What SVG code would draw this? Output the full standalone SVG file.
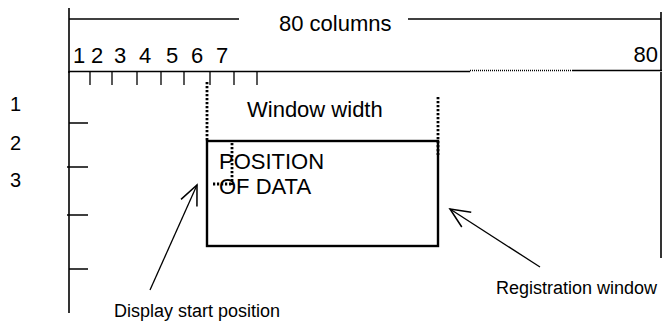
<svg xmlns="http://www.w3.org/2000/svg" width="663" height="324" viewBox="0 0 663 324">
  <style>
    .ln { stroke: #000; stroke-width: 1.6; fill: none; }
    .thin { stroke: #000; stroke-width: 1.3; fill: none; }
    .dot { stroke: #000; stroke-width: 2.8; stroke-dasharray: 2.2 1.8; fill: none; }
    .fine { stroke: #000; stroke-width: 1.4; stroke-dasharray: 1 1; fill: none; }
    .box { stroke: #000; stroke-width: 2.4; fill: none; }
    .big { font-family: "Liberation Sans", Arial, sans-serif; font-size: 22px; fill: #000; }
    .mid { font-family: "Liberation Sans", Arial, sans-serif; font-size: 18px; fill: #000; }
    .row { font-family: "Liberation Sans", Arial, sans-serif; font-size: 20px; fill: #000; }
  </style>
  <defs>
    <marker id="head" markerUnits="userSpaceOnUse" markerWidth="24" markerHeight="24" viewBox="-20 -10 22 20" refX="0" refY="0" orient="auto">
      <path d="M-18,-8 L0,0 L-18,8" stroke="#000" stroke-width="1.4" fill="none"/>
    </marker>
  </defs>
  <rect width="663" height="324" fill="#fff"/>

  <!-- column span header: 80 columns -->
  <g id="column-span">
    <line class="ln" x1="69" y1="8" x2="69" y2="73"/>
    <line class="ln" x1="661" y1="12" x2="661" y2="71"/>
    <line class="ln" x1="69" y1="19" x2="239" y2="19"/>
    <line class="ln" x1="408" y1="19" x2="661" y2="19"/>
    <text class="big" x="279" y="31">80 columns</text>
  </g>

  <!-- column ruler with numbering and tick marks -->
  <g id="column-ruler">
    <text class="big" x="73 84 91 102 114 126 139 152 166 178 191 204 216" y="63">1 2 3 4 5 6 7</text>
    <text class="big" x="658" y="62" text-anchor="end">80</text>
    <line class="ln" x1="69" y1="71.5" x2="470" y2="71.5"/>
    <line class="fine" x1="470" y1="70.5" x2="572" y2="70.5"/>
    <line class="ln" x1="572" y1="70.5" x2="662" y2="70.5" stroke-width="2.2"/>
    <path class="thin" d="M90,72V85 M112,72V85 M137,72V85 M161,72V85 M184,72V85 M210,72V85 M234,72V85 M257,72V85"/>
  </g>

  <!-- row axis -->
  <g id="row-axis">
    <line class="ln" x1="69" y1="71" x2="69" y2="313"/>
    <path class="ln" d="M69,123H88 M67,167H88 M67,215H88 M69,269H88"/>
    <text class="row" x="10" y="111">1</text>
    <text class="row" x="10" y="150">2</text>
    <text class="row" x="10" y="187">3</text>
  </g>

  <!-- right edge of the display area -->
  <g id="display-edge">
    <line class="ln" x1="661" y1="72" x2="661" y2="258"/>
  </g>

  <!-- window width guides -->
  <g id="window-width">
    <line class="dot" x1="207" y1="82" x2="207" y2="141"/>
    <line class="dot" x1="438" y1="97" x2="438" y2="155"/>
    <text class="big" x="247" y="117">Window width</text>
  </g>

  <!-- registration window with data -->
  <g id="registration-window">
    <rect class="box" x="207" y="141" width="231" height="105"/>
    <text class="big" x="219" y="169">POSITION</text>
    <text class="big" x="219" y="194">OF DATA</text>
    <line class="dot" x1="232" y1="143" x2="232" y2="185"/>
    <line class="dot" x1="213" y1="184" x2="232" y2="184"/>
  </g>

  <!-- callout labels -->
  <g id="label-display-start">
    <text class="mid" x="114" y="317">Display start position</text>
  </g>
  <g id="label-registration-window">
    <text class="mid" x="496" y="294">Registration window</text>
  </g>

  <!-- connectors -->
  <g id="connectors">
    <line class="thin" x1="150" y1="290" x2="197" y2="185" marker-end="url(#head)"/>
    <line class="thin" x1="540" y1="267" x2="450" y2="209" marker-end="url(#head)"/>
  </g>
</svg>
